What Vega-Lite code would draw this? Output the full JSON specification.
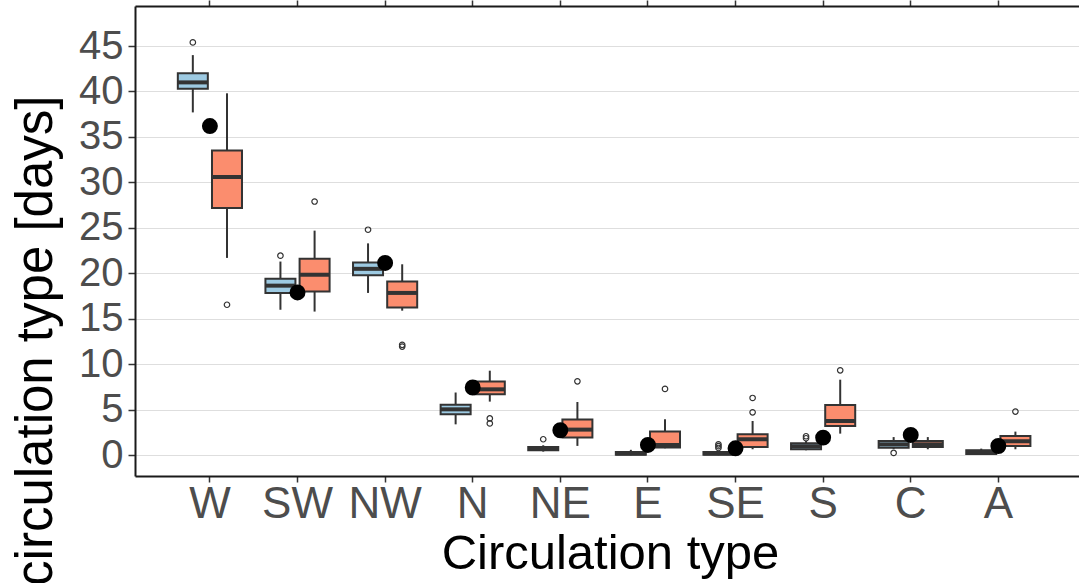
{
  "$schema": "https://vega.github.io/schema/vega-lite/v6.json",
  "width": 944,
  "height": 470,
  "autosize": {"type": "none"},
  "padding": {"left": 135, "top": 6, "right": 0, "bottom": 107},
  "background": "white",
  "config": {
    "view": {"stroke": null},
    "font": "Liberation Sans",
    "axis": {"titleFontWeight": "normal", "titleColor": "#000000", "labelColor": "#4D4D4D", "tickColor": "#333333", "domainColor": "#1A1A1A", "domainWidth": 2, "tickWidth": 1.5}
  },
  "datasets": {
    "boxes": [
      {"type": "W", "group": "obs", "lower": 37.7, "q1": 40.3, "median": 41.0, "q3": 42.0, "upper": 44.0},
      {"type": "W", "group": "sim", "lower": 21.7, "q1": 27.2, "median": 30.6, "q3": 33.5, "upper": 39.8},
      {"type": "SW", "group": "obs", "lower": 16.0, "q1": 17.85, "median": 18.65, "q3": 19.4, "upper": 21.3},
      {"type": "SW", "group": "sim", "lower": 15.8, "q1": 18.0, "median": 19.85, "q3": 21.6, "upper": 24.7},
      {"type": "NW", "group": "obs", "lower": 17.85, "q1": 19.8, "median": 20.5, "q3": 21.2, "upper": 23.3},
      {"type": "NW", "group": "sim", "lower": 15.9, "q1": 16.25, "median": 17.85, "q3": 19.1, "upper": 21.0},
      {"type": "N", "group": "obs", "lower": 3.4, "q1": 4.5, "median": 5.05, "q3": 5.55, "upper": 6.9},
      {"type": "N", "group": "sim", "lower": 5.9, "q1": 6.7, "median": 7.25, "q3": 8.1, "upper": 9.3},
      {"type": "NE", "group": "obs", "lower": 0.4, "q1": 0.55, "median": 0.73, "q3": 0.92, "upper": 1.1},
      {"type": "NE", "group": "sim", "lower": 1.03, "q1": 1.94, "median": 2.82, "q3": 3.92, "upper": 5.86},
      {"type": "E", "group": "obs", "lower": 0.0, "q1": 0.05, "median": 0.2, "q3": 0.35, "upper": 0.6},
      {"type": "E", "group": "sim", "lower": 0.77, "q1": 0.85, "median": 1.13, "q3": 2.6, "upper": 3.96},
      {"type": "SE", "group": "obs", "lower": 0.0, "q1": 0.05, "median": 0.2, "q3": 0.35, "upper": 0.5},
      {"type": "SE", "group": "sim", "lower": 0.66, "q1": 0.92, "median": 1.76, "q3": 2.3, "upper": 3.77},
      {"type": "S", "group": "obs", "lower": 0.55, "q1": 0.66, "median": 0.99, "q3": 1.32, "upper": 1.6},
      {"type": "S", "group": "sim", "lower": 2.38, "q1": 3.22, "median": 3.77, "q3": 5.53, "upper": 8.31},
      {"type": "C", "group": "obs", "lower": 0.7, "q1": 0.84, "median": 1.2, "q3": 1.57, "upper": 2.0},
      {"type": "C", "group": "sim", "lower": 0.66, "q1": 0.9, "median": 1.2, "q3": 1.57, "upper": 2.0},
      {"type": "A", "group": "obs", "lower": 0.1, "q1": 0.15, "median": 0.37, "q3": 0.55, "upper": 0.73},
      {"type": "A", "group": "sim", "lower": 0.66, "q1": 1.02, "median": 1.54, "q3": 2.13, "upper": 2.6}
    ],
    "outliers": [
      {"type": "W", "group": "obs", "value": 45.4},
      {"type": "W", "group": "sim", "value": 16.55},
      {"type": "SW", "group": "obs", "value": 21.95},
      {"type": "SW", "group": "sim", "value": 27.9},
      {"type": "NW", "group": "obs", "value": 24.8},
      {"type": "NW", "group": "sim", "value": 12.15},
      {"type": "NW", "group": "sim", "value": 11.95},
      {"type": "N", "group": "sim", "value": 4.05},
      {"type": "N", "group": "sim", "value": 3.5},
      {"type": "NE", "group": "obs", "value": 1.76},
      {"type": "NE", "group": "sim", "value": 8.13},
      {"type": "E", "group": "sim", "value": 7.3},
      {"type": "SE", "group": "obs", "value": 1.2},
      {"type": "SE", "group": "obs", "value": 1.0},
      {"type": "SE", "group": "obs", "value": 0.8},
      {"type": "SE", "group": "sim", "value": 6.3},
      {"type": "SE", "group": "sim", "value": 4.72},
      {"type": "S", "group": "obs", "value": 2.09},
      {"type": "S", "group": "obs", "value": 1.87},
      {"type": "S", "group": "sim", "value": 9.34},
      {"type": "C", "group": "obs", "value": 0.26},
      {"type": "A", "group": "sim", "value": 4.8}
    ],
    "dots": [
      {"type": "W", "value": 36.2},
      {"type": "SW", "value": 17.9},
      {"type": "NW", "value": 21.15},
      {"type": "N", "value": 7.45},
      {"type": "NE", "value": 2.75},
      {"type": "E", "value": 1.13},
      {"type": "SE", "value": 0.77},
      {"type": "S", "value": 1.94},
      {"type": "C", "value": 2.23},
      {"type": "A", "value": 1.02}
    ]
  },
  "resolve": {"axis": {"x": "independent"}},
  "layer": [
    {
      "data": {"name": "boxes"},
      "mark": {"type": "rule", "color": "#333333", "strokeWidth": 2},
      "encoding": {
        "x": {
          "field": "type", "type": "nominal", "sort": ["W", "SW", "NW", "N", "NE", "E", "SE", "S", "C", "A"],
          "scale": {"domain": ["W", "SW", "NW", "N", "NE", "E", "SE", "S", "C", "A"], "paddingInner": 0.22, "paddingOuter": 0.498, "align": 0.467},
          "axis": {"orient": "bottom", "labelAngle": 0, "labelFontSize": 44, "tickSize": 6, "labelPadding": 0, "grid": false,
                   "title": "Circulation type", "titleFontSize": 49, "titleX": 475, "titleY": 92, "titleBaseline": "alphabetic", "titleAlign": "center"}
        },
        "xOffset": {"field": "group", "type": "nominal", "scale": {"domain": ["obs", "sim"], "paddingInner": 0, "paddingOuter": 0}},
        "y": {
          "field": "lower", "type": "quantitative",
          "scale": {"domain": [-2.28, 49.4], "nice": false, "zero": false},
          "axis": {"values": [0, 5, 10, 15, 20, 25, 30, 35, 40, 45], "labelFontSize": 40, "tickSize": 7, "labelPadding": 5,
                   "grid": true, "gridColor": "#DEDEDE", "gridWidth": 1,
                   "title": "circulation type [days]", "titleFontSize": 51, "titleAngle": 270, "titleAlign": "right",
                   "titleBaseline": "alphabetic", "titleX": -84, "titleY": 89}
        },
        "y2": {"field": "upper"}
      }
    },
    {
      "data": {"name": "boxes"},
      "mark": {"type": "bar", "size": 30, "stroke": "#333333", "strokeWidth": 2},
      "encoding": {
        "x": {"field": "type", "type": "nominal", "axis": null},
        "xOffset": {"field": "group", "type": "nominal"},
        "y": {"field": "q1", "type": "quantitative"},
        "y2": {"field": "q3"},
        "color": {"field": "group", "type": "nominal", "scale": {"domain": ["obs", "sim"], "range": ["#9DCAE2", "#FB8D6E"]}, "legend": null}
      }
    },
    {
      "data": {"name": "boxes"},
      "mark": {"type": "tick", "size": 30, "thickness": 4, "color": "#333333", "opacity": 1},
      "encoding": {
        "x": {"field": "type", "type": "nominal", "axis": null},
        "xOffset": {"field": "group", "type": "nominal"},
        "y": {"field": "median", "type": "quantitative"}
      }
    },
    {
      "data": {"name": "outliers"},
      "mark": {"type": "point", "shape": "circle", "size": 30, "filled": false, "stroke": "#333333", "strokeWidth": 1.2, "opacity": 1},
      "encoding": {
        "x": {"field": "type", "type": "nominal", "axis": null},
        "xOffset": {"field": "group", "type": "nominal"},
        "y": {"field": "value", "type": "quantitative"}
      }
    },
    {
      "data": {"name": "dots"},
      "mark": {"type": "circle", "size": 254, "color": "#000000", "opacity": 1},
      "encoding": {
        "x": {"field": "type", "type": "nominal",
              "axis": {"orient": "top", "labels": false, "ticks": true, "tickSize": 6, "domain": true, "grid": false, "title": null}},
        "y": {"field": "value", "type": "quantitative"}
      }
    }
  ]
}
